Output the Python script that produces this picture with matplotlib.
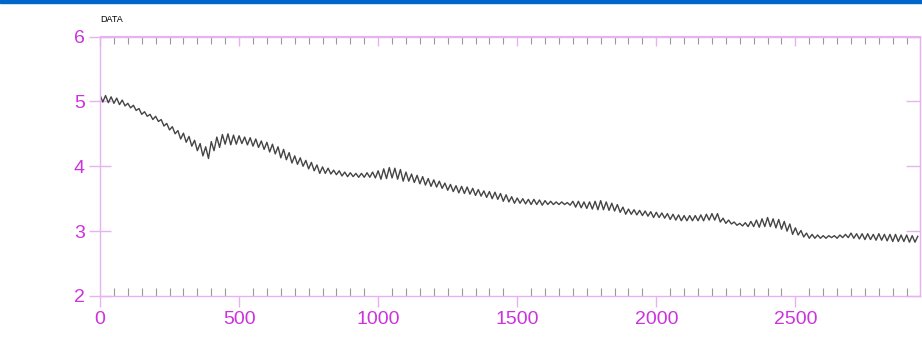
"""Noisy decaying DATA trace, magenta-framed plot."""

import matplotlib
matplotlib.use('Agg')
import matplotlib.pyplot as plt
import numpy as np
from matplotlib.patches import Rectangle
from matplotlib.ticker import MultipleLocator

sample_step = 10
data_values = [
    5.10, 4.99, 5.09, 4.98, 5.07, 4.97, 5.05, 4.95, 5.02, 4.93,
    4.97, 4.90, 4.94, 4.86, 4.89, 4.80, 4.84, 4.77, 4.80, 4.72,
    4.77, 4.69, 4.72, 4.62, 4.66, 4.56, 4.61, 4.50, 4.55, 4.42,
    4.51, 4.37, 4.46, 4.31, 4.40, 4.24, 4.35, 4.16, 4.30, 4.12,
    4.38, 4.24, 4.45, 4.29, 4.49, 4.34, 4.50, 4.33, 4.48, 4.34,
    4.47, 4.35, 4.45, 4.33, 4.44, 4.31, 4.42, 4.29, 4.39, 4.26,
    4.37, 4.22, 4.34, 4.19, 4.30, 4.13, 4.26, 4.10, 4.21, 4.05,
    4.16, 4.03, 4.13, 4.00, 4.09, 3.96, 4.06, 3.93, 4.02, 3.89,
    3.99, 3.89, 3.97, 3.88, 3.94, 3.87, 3.93, 3.85, 3.91, 3.84,
    3.90, 3.84, 3.89, 3.83, 3.89, 3.83, 3.90, 3.83, 3.91, 3.82,
    3.93, 3.80, 3.96, 3.81, 3.98, 3.82, 3.97, 3.80, 3.95, 3.77,
    3.91, 3.77, 3.88, 3.75, 3.86, 3.73, 3.84, 3.71, 3.81, 3.69,
    3.79, 3.68, 3.77, 3.66, 3.74, 3.63, 3.72, 3.61, 3.70, 3.59,
    3.69, 3.58, 3.68, 3.57, 3.66, 3.55, 3.64, 3.54, 3.62, 3.52,
    3.61, 3.50, 3.60, 3.49, 3.58, 3.46, 3.56, 3.45, 3.53, 3.43,
    3.51, 3.43, 3.50, 3.42, 3.49, 3.41, 3.49, 3.41, 3.48, 3.40,
    3.47, 3.41, 3.46, 3.41, 3.45, 3.41, 3.45, 3.41, 3.44, 3.40,
    3.46, 3.37, 3.46, 3.36, 3.45, 3.35, 3.45, 3.34, 3.46, 3.33,
    3.47, 3.33, 3.45, 3.32, 3.43, 3.31, 3.41, 3.29, 3.37, 3.26,
    3.34, 3.26, 3.33, 3.25, 3.32, 3.24, 3.31, 3.23, 3.30, 3.21,
    3.29, 3.21, 3.28, 3.20, 3.27, 3.18, 3.26, 3.17, 3.25, 3.16,
    3.24, 3.16, 3.24, 3.16, 3.24, 3.16, 3.25, 3.16, 3.26, 3.17,
    3.27, 3.17, 3.27, 3.14, 3.20, 3.12, 3.17, 3.11, 3.14, 3.09,
    3.12, 3.08, 3.13, 3.07, 3.15, 3.07, 3.17, 3.06, 3.19, 3.07,
    3.21, 3.07, 3.19, 3.05, 3.18, 3.03, 3.15, 3.00, 3.11, 2.95,
    3.05, 2.94, 3.01, 2.91, 2.97, 2.89, 2.95, 2.89, 2.94, 2.89,
    2.93, 2.89, 2.93, 2.90, 2.93, 2.89, 2.94, 2.90, 2.95, 2.90,
    2.97, 2.89, 2.96, 2.88, 2.96, 2.87, 2.96, 2.87, 2.95, 2.86,
    2.96, 2.86, 2.95, 2.85, 2.95, 2.84, 2.95, 2.84, 2.94, 2.84,
    2.94, 2.83, 2.93, 2.83, 2.92,
]
x_max = 2948
y_range = (2, 6)
x_ticks = [0, 500, 1000, 1500, 2000, 2500]
y_ticks = [2, 3, 4, 5, 6]

magenta = '#cc33dd'
spine_col = '#e6b3f0'
minor_col = '#999999'

plt.rcParams['font.family'] = ['Liberation Sans', 'DejaVu Sans']

x = np.arange(len(data_values)) * sample_step

fig = plt.figure(figsize=(9.22, 3.39), dpi=100)
fig.patches.append(Rectangle((0, 1 - 3 / 339), 1, 3 / 339, transform=fig.transFigure,
                             color='#0066cc', zorder=10))

ax = fig.add_axes([100 / 922, 1 - 296 / 339, 820 / 922, 259.5 / 339])
ax.plot(x, data_values, color='#444444', lw=1.0)

ax.set_xlim(0, x_max)
ax.set_ylim(*y_range)
ax.set_xticks(x_ticks)
ax.set_yticks(y_ticks)
ax.xaxis.set_minor_locator(MultipleLocator(50))

for s in ax.spines.values():
    s.set_color(spine_col)
    s.set_linewidth(1.0)

ax.tick_params(axis='x', which='major', direction='out', length=8, width=1,
               color=spine_col, labelcolor=magenta, labelsize=14, pad=3,
               top=False)
ax.tick_params(axis='x', which='minor', direction='in', length=6, width=0.8,
               color=minor_col, top=False)
ax.tick_params(axis='y', which='major', direction='inout', length=16, width=1,
               color=spine_col, labelcolor=magenta, labelsize=14, pad=3,
               right=False)

# top / right ticks point inward only
secx = ax.secondary_xaxis('top')
secx.set_xticks(x_ticks)
secx.xaxis.set_minor_locator(MultipleLocator(50))
secx.tick_params(axis='x', which='major', direction='in', length=7, width=1,
                 color=spine_col, labeltop=False)
secx.tick_params(axis='x', which='minor', direction='in', length=6, width=0.8,
                 color=minor_col)
secx.spines['top'].set_color(spine_col)

secy = ax.secondary_yaxis('right')
secy.set_yticks(y_ticks)
secy.tick_params(axis='y', which='major', direction='in', length=10, width=1,
                 color=spine_col, labelright=False)
secy.spines['right'].set_color(spine_col)

fig.text(100 / 922, 1 - 20 / 339, 'DATA', fontsize=6.5, color='black',
         va='center', ha='left')

fig.savefig('out.png', dpi=100)
plt.close()
